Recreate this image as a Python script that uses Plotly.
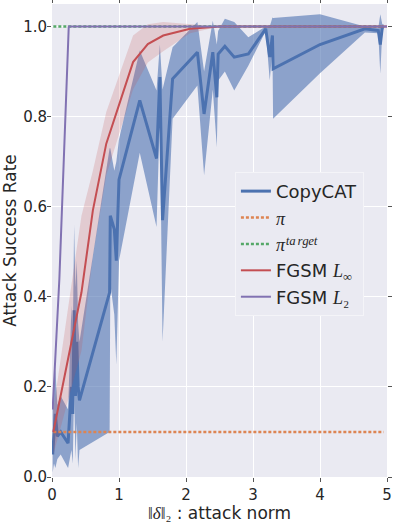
import plotly.graph_objects as go

# CopyCAT: mean success rate and band
cc_x = [0.01, 0.03, 0.05, 0.08, 0.13, 0.24, 0.29, 0.31, 0.33, 0.35, 0.37, 0.39, 0.41,
        0.86, 0.87, 0.93, 0.96, 1.00, 1.31, 1.56, 1.61, 1.65, 1.80, 2.17, 2.27, 2.40,
        2.46, 2.48, 2.58, 2.72, 2.93, 3.19, 3.25, 3.29, 3.30, 4.00, 4.67, 4.87, 4.90,
        4.93, 4.95]
cc_mean = [0.05, 0.10, 0.14, 0.09, 0.10, 0.075, 0.20, 0.14, 0.37, 0.18, 0.30, 0.20, 0.17,
           0.41, 0.58, 0.55, 0.48, 0.66, 0.836, 0.707, 0.888, 0.57, 0.884, 0.943, 0.806, 0.943,
           0.843, 0.939, 0.956, 0.932, 0.939, 0.995, 0.932, 0.98, 0.906, 0.96, 0.995, 0.991, 0.96,
           0.998, 1.0]
cc_lo = [0.01, 0.03, 0.02, 0.04, 0.05, 0.02, 0.06, 0.03, 0.20, 0.04, 0.12, 0.02, 0.06,
         0.10, 0.43, 0.36, 0.25, 0.48, 0.72, 0.555, 0.80, 0.30, 0.795, 0.869, 0.67, 0.86,
         0.732, 0.88, 0.90, 0.858, 0.913, 0.99, 0.88, 0.95, 0.795, 0.896, 0.987, 0.985, 0.895,
         0.99, 0.995]
cc_hi = [0.17, 0.20, 0.24, 0.16, 0.18, 0.15, 0.38, 0.30, 0.56, 0.42, 0.48, 0.34, 0.30,
         0.73, 0.73, 0.68, 0.70, 0.75, 0.947, 0.858, 0.96, 0.86, 0.954, 1.01, 0.90, 1.013,
         0.96, 0.99, 1.017, 1.01, 0.976, 1.0, 1.0, 1.02, 1.019, 1.027, 1.0, 0.997, 1.027,
         1.005, 1.005]

# FGSM L_inf
linf_x = [0.02, 0.44, 0.61, 0.81, 1.21, 1.43, 1.66, 2.06, 2.5, 3.0, 4.0, 5.0]
linf_mean = [0.10, 0.41, 0.592, 0.74, 0.921, 0.961, 0.98, 0.995, 1.0, 1.0, 1.0, 1.0]
linf_lo = [0.05, 0.28, 0.49, 0.67, 0.86, 0.92, 0.945, 0.985, 1.0, 1.0, 1.0, 1.0]
linf_hi = [0.15, 0.58, 0.68, 0.81, 0.98, 1.005, 1.01, 1.005, 1.0, 1.0, 1.0, 1.0]

# FGSM L2
l2_x = [0.01, 0.11, 0.25, 1.0, 2.0, 3.0, 4.0, 5.0]
l2_mean = [0.15, 0.44, 1.0, 1.0, 1.0, 1.0, 1.0, 1.0]

# baselines
base_x = [0.02, 4.95]
pi_val = [0.1, 0.1]
pi_target_val = [1.0, 1.0]

BLUE = "#4C72B0"
ORANGE = "#DD8452"
GREEN = "#55A868"
RED = "#C44E52"
PURPLE = "#8172B2"
MATH = "font-family:'Liberation Serif', 'DejaVu Serif', serif"

fig = go.Figure()

# CopyCAT band + line
fig.add_trace(go.Scatter(x=cc_x, y=cc_lo, mode="lines", line=dict(width=0),
                         showlegend=False, hoverinfo="skip"))
fig.add_trace(go.Scatter(x=cc_x, y=cc_hi, mode="lines", line=dict(width=0),
                         fill="tonexty", fillcolor="rgba(76,114,176,0.6)",
                         showlegend=False, hoverinfo="skip"))
fig.add_trace(go.Scatter(x=cc_x, y=cc_mean, mode="lines", name="CopyCAT",
                         line=dict(color=BLUE, width=3)))

fig.add_trace(go.Scatter(x=base_x, y=pi_val, mode="lines",
                         name=f"<span style=\"{MATH}\"><i>π</i></span>",
                         line=dict(color=ORANGE, width=2.5, dash="3px,2px")))
fig.add_trace(go.Scatter(x=base_x, y=pi_target_val, mode="lines",
                         name=f"<span style=\"{MATH}\"><i>π</i><span style=\"font-size:21px\"><i>ᵗᵃʳᵍᵉᵗ</i></span></span>",
                         line=dict(color=GREEN, width=2.5, dash="3px,2px")))

# FGSM L_inf band + line
fig.add_trace(go.Scatter(x=linf_x, y=linf_lo, mode="lines", line=dict(width=0),
                         showlegend=False, hoverinfo="skip"))
fig.add_trace(go.Scatter(x=linf_x, y=linf_hi, mode="lines", line=dict(width=0),
                         fill="tonexty", fillcolor="rgba(196,78,82,0.2)",
                         showlegend=False, hoverinfo="skip"))
fig.add_trace(go.Scatter(x=linf_x, y=linf_mean, mode="lines",
                         name=f"FGSM <span style=\"{MATH}\"><i>L</i><sub>∞</sub></span>",
                         line=dict(color=RED, width=2)))

fig.add_trace(go.Scatter(x=l2_x, y=l2_mean, mode="lines",
                         name=f"FGSM <span style=\"{MATH}\"><i>L</i>₂</span>",
                         line=dict(color=PURPLE, width=2)))

axis_common = dict(showgrid=True, gridcolor="white", gridwidth=1, zeroline=False,
                   ticks="outside", ticklen=4, tickcolor="#555555", mirror="ticks",
                   showline=False, automargin=False,
                   tickfont=dict(size=15, family="DejaVu Sans", color="#262626"))

fig.update_xaxes(range=[0, 5], dtick=1, tickformat="d",
                 title=dict(text=f"<span style=\"{MATH}\">‖<i>δ</i>‖₂</span> : attack norm",
                            font=dict(size=17, family="DejaVu Sans", color="#262626"),
                            standoff=2),
                 **axis_common)
fig.update_yaxes(range=[0, 1.05], dtick=0.2, tickformat=".1f", ticklabelstandoff=-3,
                 title=dict(text="Attack Success Rate",
                            font=dict(size=17, family="DejaVu Sans", color="#262626"),
                            standoff=4),
                 **axis_common)

fig.update_layout(
    width=395, height=523,
    margin=dict(l=52, r=8, t=4, b=46),
    plot_bgcolor="#EAEAF2", paper_bgcolor="white",
    font=dict(family="DejaVu Sans", color="#262626"),
    legend=dict(x=0.546, y=0.645, xanchor="left", yanchor="top",
                traceorder="normal",
                bgcolor="#EAEAF2", bordercolor="#F4F4F8", borderwidth=1,
                font=dict(size=18, family="DejaVu Sans", color="#262626"),
                tracegroupgap=0),
)

# page body has a default 8px margin; drop it so the figure fills the window
fig.write_html("out.html", config={"displayModeBar": False},
               post_script="document.body.style.margin='0';")
